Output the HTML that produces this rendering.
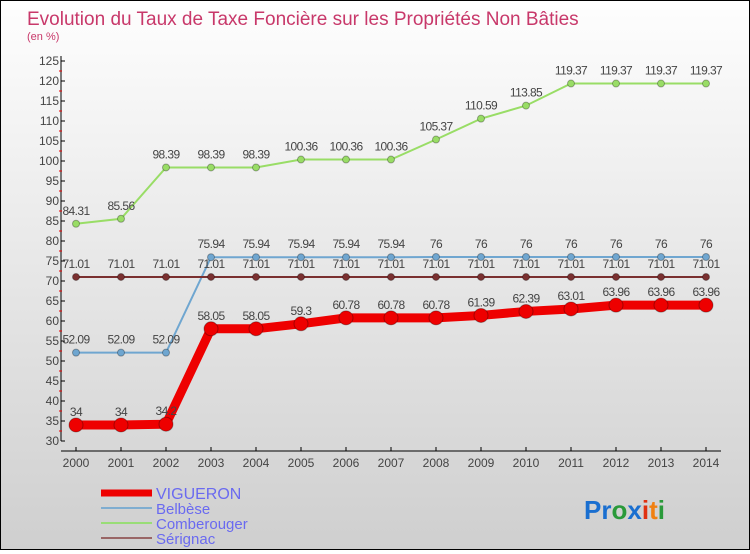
<!DOCTYPE html>
<html><head><meta charset="utf-8"><style>
html,body{margin:0;padding:0}
body{width:750px;height:550px;overflow:hidden;font-family:"Liberation Sans",sans-serif}
#wrap{position:relative;width:748px;height:548px;border:1px solid #000;background:linear-gradient(#fefefe,#cfcfcf)}
</style></head><body>
<div id="wrap">
<svg id="chart" width="748" height="548">
<text x="26" y="24" font-size="19" fill="#c8386a">Evolution du Taux de Taxe Foncière sur les Propriétés Non Bâties</text>
<text x="26" y="39" font-size="11" fill="#c8386a">(en %)</text>
<g id="axes"></g><g id="series"></g>
<g>
<line x1="100" y1="492" x2="151" y2="492" stroke="#e00" stroke-width="7"/>
<text x="155" y="498" font-size="16" fill="#6a6af0">VIGUERON</text>
<line x1="100" y1="507" x2="151" y2="507" stroke="#7fadd0" stroke-width="2"/>
<text x="155" y="513" font-size="15" fill="#6a6af0">Belbèse</text>
<line x1="100" y1="522" x2="151" y2="522" stroke="#99dd77" stroke-width="2"/>
<text x="155" y="528" font-size="15" fill="#6a6af0">Comberouger</text>
<line x1="100" y1="537" x2="151" y2="537" stroke="#996666" stroke-width="2"/>
<text x="155" y="543" font-size="15" fill="#6a6af0">Sérignac</text>
</g>
<text x="583" y="518" font-size="26" font-weight="bold"><tspan fill="#1a6fd0">Pr</tspan><tspan fill="#2a9a3a">o</tspan><tspan fill="#1a6fd0">x</tspan><tspan fill="#e03010">i</tspan><tspan fill="#f08010">t</tspan><tspan fill="#2a9a3a">i</tspan></text>
</svg>
</div>
<script>
const years=[2000,2001,2002,2003,2004,2005,2006,2007,2008,2009,2010,2011,2012,2013,2014];
const vigueron=[34,34,34.2,58.05,58.05,59.3,60.78,60.78,60.78,61.39,62.39,63.01,63.96,63.96,63.96];
const belbese=[52.09,52.09,52.09,75.94,75.94,75.94,75.94,75.94,76,76,76,76,76,76,76];
const comberouger=[84.31,85.56,98.39,98.39,98.39,100.36,100.36,100.36,105.37,110.59,113.85,119.37,119.37,119.37,119.37];
const serignac=[71.01,71.01,71.01,71.01,71.01,71.01,71.01,71.01,71.01,71.01,71.01,71.01,71.01,71.01,71.01];
const yTicks=[30,35,40,45,50,55,60,65,70,75,80,85,90,95,100,105,110,115,120,125];
const NS="http://www.w3.org/2000/svg";
const sx=i=>75+i*45, sy=v=>440-(v-30)*4;
const axes=document.getElementById('axes'), ser=document.getElementById('series');
function mk(tag,attrs,parent){const e=document.createElementNS(NS,tag);for(const k in attrs)e.setAttribute(k,attrs[k]);parent.appendChild(e);return e;}
let l=mk('line',{x1:60,y1:55,x2:60,y2:440,stroke:'#000'},axes);


l=mk('line',{x1:60,y1:450,x2:720,y2:450,stroke:'#000'},axes);


yTicks.forEach(v=>{
  mk('line',{x1:60,y1:sy(v),x2:64,y2:sy(v),stroke:'#000'},axes);
  if(v<125)mk('line',{x1:58,y1:sy(v+2.5),x2:61,y2:sy(v+2.5),stroke:'#e00'},axes);
  const t=mk('text',{x:58,y:sy(v)+4,'font-size':12,'text-anchor':'end',fill:'#444'},axes);
  t.textContent=v;
  
  
});
years.forEach((y,i)=>{
  mk('line',{x1:sx(i),y1:446,x2:sx(i),y2:450,stroke:'#000'},axes);
  const t=mk('text',{x:sx(i),y:466,'font-size':12,'text-anchor':'middle',fill:'#444'},axes);
  t.textContent=y;
  
  
});
function series(vals,color,w,r,name){
  const g=mk('g',{},ser);
  
  
  mk('polyline',{points:vals.map((v,i)=>sx(i)+','+sy(v)).join(' '),fill:'none',stroke:color,'stroke-width':w},g);
  vals.forEach((v,i)=>{
    const c=mk('circle',{cx:sx(i),cy:sy(v),r:r,fill:color,stroke:'rgba(0,0,0,0.3)'},g);
    
    
    const t=mk('text',{x:sx(i),y:sy(v)-9,'font-size':12,'text-anchor':'middle',fill:'#444','letter-spacing':'-0.6'},g);
    t.textContent=v;
    
    
  });
}
series(comberouger,'#99dd66',2,3.5,'comberouger-series');
series(belbese,'#6fa6d0',2,3.5,'belbese-series');
series(serignac,'#7a3030',2,3.5,'serignac-series');
series(vigueron,'#ee0000',9,7,'vigueron-series');
</script>
</body></html>
